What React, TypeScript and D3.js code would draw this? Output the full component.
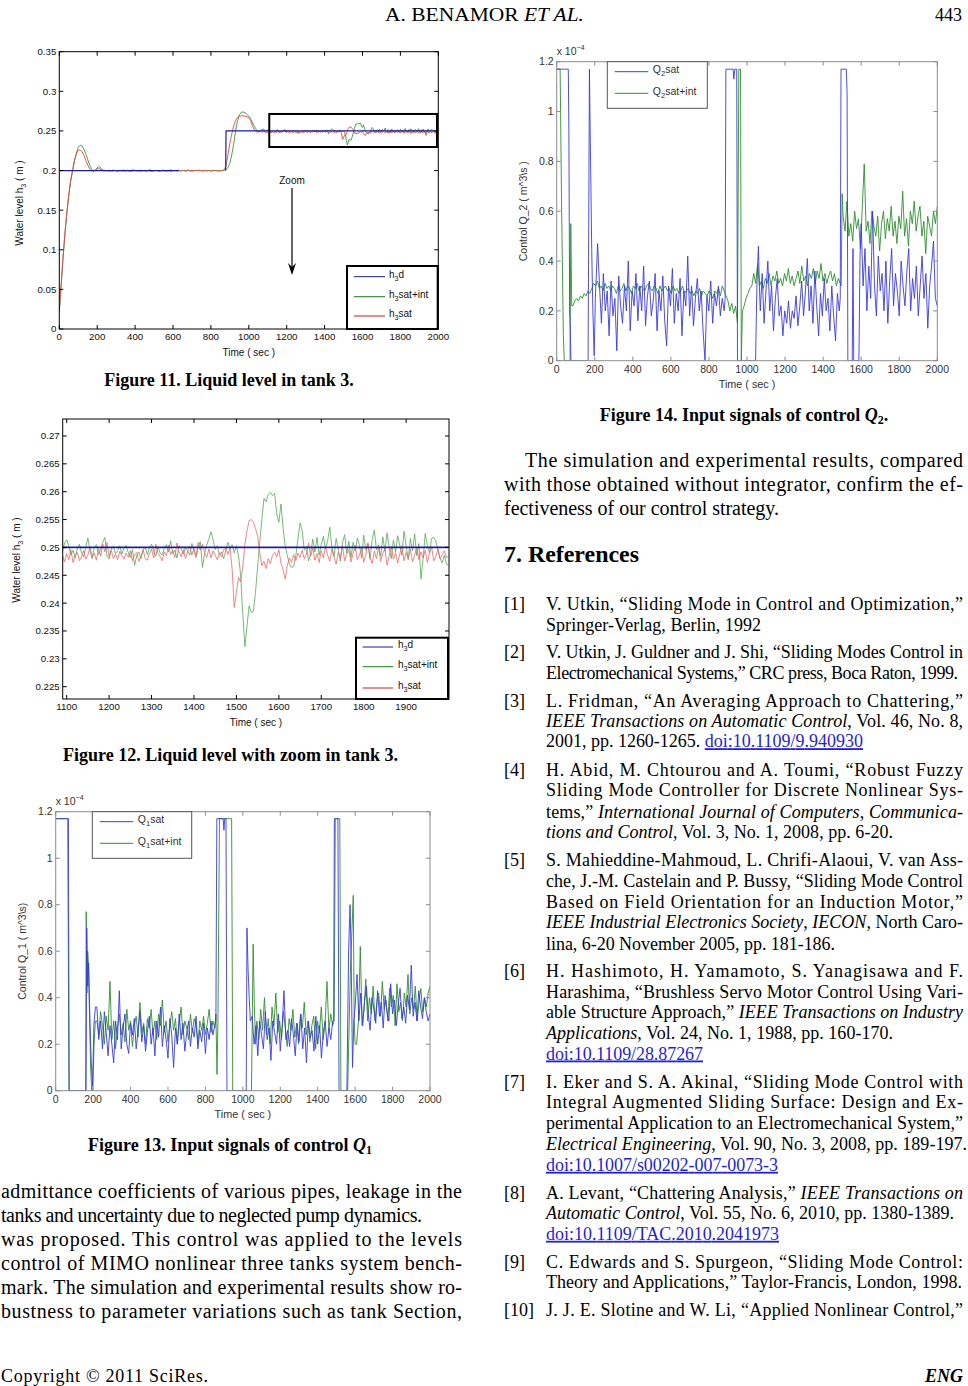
import React from 'react';
import * as d3 from 'd3';

type P = [number, number];
type Run = [number, number, number[]];

// ================= DATA =================
// Tick labels
const timeTicks = [0, 200, 400, 600, 800, 1000, 1200, 1400, 1600, 1800, 2000];
const zoomTimeTicks = [1100, 1200, 1300, 1400, 1500, 1600, 1700, 1800, 1900];
const levelTicks = [0, 0.05, 0.1, 0.15, 0.2, 0.25, 0.3, 0.35];
const zoomLevelTicks = [0.225, 0.23, 0.235, 0.24, 0.245, 0.25, 0.255, 0.26, 0.265, 0.27];
const flowTicks = [0, 0.2, 0.4, 0.6, 0.8, 1, 1.2];

// Figure 11 / 12 : water level h3, values in mm, time in s
const h3dLevel: P[] = [[0, 200], [630, 200], [630, NaN], [878, 200], [880, 250], [2000, 250]];
const h3Spans: P[] = [[0, 230], [240, 860], [870, 1080], [1090, 2000]];

const h3IntRise = [22, 55, 90, 120, 146, 168, 186, 199, 212, 222, 229, 232, 231, 227, 221, 214, 207, 202, 199.5, 200.5, 203.5, 205, 203, 200.5];
const h3IntFlat = [200.3, 199.6, 200.4, 199.5, 200.6, 199.8, 200.2, 199.4, 200.5, 199.9, 200.7, 199.6, 200.1, 199.3, 200.4, 200.8, 199.7, 200.2, 199.5, 200.6, 199.8, 200.3, 199.4, 200.5, 200.9, 199.6, 200.2, 199.7, 200.4, 199.5, 200.1, 200.6, 199.8, 199.4, 200.3, 200.7, 199.6, 200.2, 199.9, 200.5, 199.5, 200.1, 200.4, 199.7, 200.8, 199.6, 200.3, 199.5, 200.2, 199.9, 200.6, 199.4, 200.1, 200.5, 199.7, 200.3, 199.6, 200.4, 199.8, 200.2, 199.5, 200.3, 199.9];
const h3IntStep = [200.2, 201, 204, 209, 220, 233, 250, 262, 270, 273.5, 274, 273, 271, 268.5, 265, 260, 255.5, 251.5, 249.3, 250.5, 251.8, 252.2];
const h3IntZoom = [
  249.2, 250.8, 251.4, 250.2, 248.6, 249.5, 248.1, 249.8, 250.6, 249.0,
  248.3, 250.1, 251.7, 249.4, 248.0, 249.9, 250.5, 248.7, 249.6, 250.9,
  251.8, 248.4, 247.9, 249.7, 250.2, 248.9, 249.4, 250.3, 248.8, 249.9,
  250.4, 249.1, 248.2, 249.6, 246.8, 248.5, 249.2, 248.0, 249.5, 250.1,
  248.7, 249.9, 250.6, 249.3, 248.4, 250.2, 249.0, 248.6, 249.8, 250.5,
  249.2, 251.2, 248.9, 249.5, 248.1, 250.3, 249.7, 248.8, 250.0, 249.4,
  248.6, 250.7, 249.3, 248.2, 250.1, 251.0, 246.4, 248.9, 250.4, 251.5,
  252.8, 251.4, 249.6, 250.3, 248.7, 249.2, 248.0, 249.5, 250.9, 249.8,
  250.5, 249.0, 250.3, 248.5, 245.0, 238.0, 232.2, 236.0, 239.5, 238.3,
  238.5, 242.0, 246.5, 251.0, 255.0, 258.8, 258.2, 259.5, 259.9, 259.3,
  259.7, 256.0, 254.5, 257.8, 253.5, 250.3, 248.5, 247.0, 246.4, 246.6,
  248.5, 251.5, 254.4, 253.0, 249.5, 250.2, 247.6, 249.0, 251.5, 249.2,
  251.8, 248.6, 250.5, 252.0, 249.8, 251.2, 253.6, 250.1, 248.3, 251.6,
  249.7, 247.5, 250.8, 252.3, 249.0, 251.1, 248.2, 250.9, 249.4, 251.7,
  250.3, 248.1, 252.2, 249.5, 250.8, 247.9, 251.4, 253.1, 249.6, 250.5,
  248.4, 251.9, 249.3, 252.6, 250.0, 248.0, 251.3, 249.1, 252.1, 250.4,
  248.6, 252.9, 250.2, 247.8, 251.6, 249.4, 252.4, 248.5, 250.7, 244.3,
  248.0, 252.5, 250.3, 249.0, 251.6, 251.8, 251.2, 249.5, 248.0, 247.2,
  248.6, 247.0, 246.8];

const h3SatRise = [22, 56, 92, 122, 148, 170, 188, 201, 213, 221, 225.5, 226, 224, 219, 213, 207, 202, 199.5, 199.2, 200.5, 202, 202.5, 201, 199.8];
const h3SatFlat = [199.5, 200.2, 199.3, 199.9, 199.1, 200.4, 199.6, 199.0, 200.1, 199.4, 199.8, 199.2, 200.3, 199.5, 199.0, 199.9, 200.5, 199.3, 199.7, 199.1, 200.0, 199.6, 199.2, 200.2, 199.4, 198.9, 199.8, 200.3, 199.5, 199.0, 200.1, 199.7, 199.3, 200.4, 199.6, 199.1, 199.9, 200.2, 199.4, 199.8, 199.0, 200.3, 199.5, 199.2, 200.0, 199.6, 199.1, 199.9, 200.4, 199.3, 199.7, 200.1, 199.2, 199.8, 199.5, 200.2, 199.0, 199.6, 200.3, 199.4, 199.9, 199.2, 200.0];
const h3SatStep = [201, 206, 220, 234, 246, 256, 263, 267, 268.5, 269, 269, 268.5, 268, 266.5, 263, 256, 251, 249, 248.5, 249.3, 248.7, 249.2];
const h3SatZoom = [
  248.6, 247.4, 248.9, 247.8, 249.6, 247.3, 248.5, 249.1, 247.6, 248.3,
  249.4, 247.9, 248.6, 250.1, 248.2, 249.0, 247.7, 249.8, 248.4, 250.6,
  249.2, 250.9, 248.3, 249.5, 248.0, 248.8, 247.8, 249.3, 248.5, 247.9,
  249.0, 248.2, 249.4, 247.6, 248.7, 249.1, 247.5, 248.3, 249.6, 248.0,
  247.7, 248.9, 249.7, 248.1, 250.6, 249.0, 248.4, 247.6, 249.2, 248.5,
  250.4, 248.7, 249.5, 248.2, 250.8, 249.1, 248.3, 249.6, 248.0, 249.3,
  250.2, 248.6, 249.8, 248.4, 250.9, 249.5, 250.6, 249.0, 248.2, 249.7,
  248.1, 249.4, 248.6, 247.8, 249.0, 248.3, 249.6, 249.9, 248.7, 250.0,
  246.0, 239.2, 242.0, 244.6, 243.8, 246.5, 250.5, 253.0, 254.8, 255.0,
  254.5, 253.4, 252.0, 249.0, 246.7, 247.5, 246.2, 248.0, 247.1, 248.6,
  249.1, 248.3, 249.6, 247.2, 246.0, 244.3, 246.8, 248.1, 247.3, 248.7,
  247.6, 249.0, 248.2, 249.5, 247.9, 248.8, 250.8, 248.4, 249.9, 247.7,
  248.9, 247.3, 249.4, 248.1, 250.2, 248.6, 247.5, 249.7, 248.3, 247.0,
  249.1, 248.0, 250.3, 247.6, 248.8, 249.6, 247.4, 248.9, 250.4, 247.8,
  248.6, 249.9, 247.3, 248.7, 250.6, 248.2, 247.1, 249.4, 248.0, 250.1,
  247.5, 248.9, 249.8, 246.8, 248.4, 250.2, 247.9, 249.0, 247.2, 248.8,
  250.3, 247.6, 249.1, 248.0, 249.7, 247.4, 248.6, 250.0, 247.8, 249.2,
  248.1, 249.5, 247.3, 248.9, 250.1, 247.6, 248.4, 249.8, 247.9, 248.7,
  249.4, 248.1, 248.5];

// Figure 13 : control Q1 (x 1e-4 m^3/s)
const q1SatPts: P[] = [[0, 1.17], [68, 1.17], [72, 0], [162, 0], [166, 0.7], [171, 0.45], [176, 0.55], [183, 0.3], [190, 0.12], [197, 0.02], [204, 0.28], [212, 0.36],
  [856, 0.3], [861, 1.17], [895, 1.17], [899, 1.12], [903, 1.17], [910, 1.17], [915, 0], [1018, 0], [1022, 0.7], [1028, 0.52], [1034, 0.4], [1040, 0.3],
  [1485, 0.3], [1489, 1.17], [1508, 1.17], [1514, 0], [1556, 0], [1565, 0.6], [1573, 0.8], [1579, 0.55], [1586, 0.1], [1593, 0.3]];
const q1SatNoiseA = [0.36, 0.22, 0.3, 0.18, 0.34, 0.25, 0.15, 0.28, 0.2, 0.12, 0.3, 0.22, 0.43, 0.18, 0.27, 0.33, 0.2, 0.16, 0.29, 0.24, 0.31, 0.18, 0.26, 0.34, 0.21, 0.28, 0.17, 0.25, 0.32, 0.2, 0.27, 0.15, 0.3, 0.23, 0.36, 0.19, 0.28, 0.22, 0.14, 0.31, 0.24, 0.1, 0.27, 0.2, 0.33, 0.22, 0.29, 0.17, 0.25, 0.3, 0.19, 0.27, 0.23, 0.32, 0.18, 0.26, 0.21, 0.29, 0.16, 0.27, 0.22, 0.3, 0.24, 0.28];
const q1SatNoiseB = [0.32, 0.2, 0.28, 0.15, 0.3, 0.24, 0.18, 0.34, 0.22, 0.27, 0.13, 0.3, 0.25, 0.2, 0.33, 0.17, 0.28, 0.43, 0.22, 0.26, 0.19, 0.31, 0.24, 0.15, 0.29, 0.21, 0.33, 0.18, 0.27, 0.12, 0.3, 0.23, 0.26, 0.17, 0.32, 0.2, 0.28, 0.14, 0.25, 0.3, 0.19, 0.27, 0.22, 0.3];
const q1SatNoiseC = [0.36, 0.5, 0.3, 0.42, 0.28, 0.38, 0.45, 0.33, 0.26, 0.4, 0.35, 0.29, 0.43, 0.32, 0.38, 0.27, 0.41, 0.34, 0.3, 0.46, 0.33, 0.39, 0.28, 0.37, 0.44, 0.31, 0.36, 0.29, 0.41, 0.35, 0.54, 0.32, 0.38, 0.3, 0.43, 0.36, 0.31, 0.4, 0.34, 0.3, 0.33];
const q1SatRuns: Run[] = [[220, 850, q1SatNoiseA], [1050, 1480, q1SatNoiseB], [1600, 2000, q1SatNoiseC]];

const q1IntPts: P[] = [[0, 1.17], [64, 1.17], [71, 0], [160, 0], [163, 0.77], [167, 0.42], [171, 0.6], [175, 0.55], [180, 0.35], [186, 0.12], [192, 0], [198, 0], [205, 0.2], [212, 0.3],
  [856, 0.33], [862, 0.07], [867, 0.3], [875, 1.17], [940, 1.17], [946, 0], [1046, 0], [1055, 0.63], [1061, 0.38], [1068, 0.2],
  [1488, 0.3], [1494, 1.17], [1518, 1.17], [1524, 0], [1560, 0], [1574, 0.5], [1590, 0.84], [1595, 0.3], [1600, 0.2]];
const q1IntNoiseA = [0.3, 0.24, 0.34, 0.28, 0.2, 0.32, 0.26, 0.47, 0.22, 0.3, 0.18, 0.27, 0.33, 0.24, 0.29, 0.21, 0.35, 0.26, 0.3, 0.19, 0.28, 0.32, 0.23, 0.38, 0.25, 0.29, 0.2, 0.31, 0.27, 0.35, 0.24, 0.3, 0.22, 0.33, 0.28, 0.39, 0.25, 0.3, 0.21, 0.28, 0.34, 0.26, 0.31, 0.2, 0.29, 0.36, 0.24, 0.3, 0.27, 0.22, 0.33, 0.25, 0.31, 0.28, 0.2, 0.3, 0.26, 0.32, 0.24, 0.29, 0.35, 0.25, 0.3, 0.27];
const q1IntNoiseB = [0.3, 0.22, 0.35, 0.26, 0.4, 0.24, 0.31, 0.2, 0.36, 0.28, 0.42, 0.25, 0.3, 0.22, 0.34, 0.27, 0.19, 0.31, 0.26, 0.35, 0.23, 0.29, 0.2, 0.33, 0.27, 0.38, 0.24, 0.3, 0.21, 0.28, 0.32, 0.18, 0.3, 0.25, 0.36, 0.22, 0.29, 0.47, 0.26, 0.33, 0.28];
const q1IntNoiseC = [0.2, 0.3, 0.62, 0.28, 0.35, 0.48, 0.3, 0.4, 0.33, 0.45, 0.3, 0.38, 0.42, 0.32, 0.47, 0.35, 0.39, 0.3, 0.44, 0.36, 0.41, 0.28, 0.46, 0.34, 0.38, 0.3, 0.42, 0.36, 0.5, 0.33, 0.4, 0.35, 0.45, 0.3, 0.38, 0.44, 0.34, 0.4, 0.36, 0.42, 0.45];
const q1IntRuns: Run[] = [[220, 850, q1IntNoiseA], [1075, 1480, q1IntNoiseB], [1608, 2000, q1IntNoiseC]];

// Figure 14 : control Q2 (x 1e-4 m^3/s)
const q2SatPts: P[] = [[0, 1.17], [61, 1.17], [64, 0.92], [68, 0.2], [72, 0.12], [75, 0], [165, 0], [172, 1.17], [178, 0.8], [184, 0.45], [190, 0.2], [197, 0.02], [203, 0.25], [208, 0.34],
  [885, 0.25], [889, 1.17], [927, 1.17], [931, 1.13], [936, 1.17], [946, 1.17], [950, 0], [1045, 0], [1052, 0.3], [1060, 0.46], [1065, 0.3],
  [1490, 0.25], [1494, 1.17], [1522, 1.17], [1526, 1.07], [1530, 0], [1553, 0], [1557, 0.45], [1561, 0], [1588, 0], [1594, 0.42]];
const q2SatNoiseA = [0.47, 0.3, 0.15, 0.35, 0.2, 0.28, 0.1, 0.32, 0.18, 0.25, 0.04, 0.34, 0.22, 0.15, 0.3, 0.2, 0.4, 0.12, 0.28, 0.22, 0.35, 0.16, 0.3, 0.2, 0.38, 0.14, 0.26, 0.32, 0.18, 0.24, 0.35, 0.12, 0.28, 0.2, 0.34, 0.16, 0.06, 0.3, 0.22, 0.37, 0.15, 0.27, 0.2, 0.33, 0.1, 0.28, 0.22, 0.42, 0.18, 0.3, 0.14, 0.25, 0.33, 0.2, 0.28, 0.12, 0.0, 0.26, 0.2, 0.32, 0.15, 0.27, 0.22, 0.3, 0.18, 0.25, 0.2];
const q2SatNoiseB = [0.2, 0.35, 0.15, 0.28, 0.4, 0.2, 0.3, 0.12, 0.25, 0.33, 0.18, 0.22, 0.1, 0.2, 0.15, 0.24, 0.13, 0.2, 0.17, 0.26, 0.14, 0.22, 0.32, 0.18, 0.28, 0.41, 0.2, 0.3, 0.15, 0.36, 0.22, 0.1, 0.27, 0.18, 0.33, 0.2, 0.25, 0.12, 0.3, 0.18, 0.08, 0.27, 0.2];
const q2SatNoiseC = [0.55, 0.3, 0.45, 0.2, 0.38, 0.25, 0.6, 0.3, 0.18, 0.42, 0.28, 0.35, 0.2, 0.4, 0.15, 0.32, 0.45, 0.22, 0.35, 0.28, 0.18, 0.4, 0.3, 0.22, 0.36, 0.45, 0.2, 0.33, 0.25, 0.38, 0.18, 0.3, 0.42, 0.25, 0.35, 0.13, 0.3, 0.38, 0.48, 0.25, 0.22];
const q2SatRuns: Run[] = [[215, 880, q2SatNoiseA], [1070, 1485, q2SatNoiseB], [1600, 2000, q2SatNoiseC]];

const q2IntPts: P[] = [[0, 1.17], [18, 1.17], [26, 0.6], [35, 0.1], [40, 0], [70, 0], [74, 0.55], [79, 0.22],
  [890, 0.26], [900, 0.24], [910, 0.2], [920, 0.23], [930, 0.19], [940, 0.22], [950, 0.15], [957, 1.17], [966, 1.17], [970, 0], [976, 0.2],
  [1495, 0.3], [1500, 0.67]];
const q2IntNoiseA = [0.22, 0.24, 0.25, 0.24, 0.26, 0.25, 0.27, 0.26, 0.28, 0.27, 0.29, 0.31, 0.3, 0.32, 0.29, 0.3, 0.28, 0.31, 0.29, 0.3, 0.28, 0.3, 0.29, 0.27, 0.3, 0.28, 0.29, 0.31, 0.28, 0.3, 0.29, 0.27, 0.3, 0.29, 0.31, 0.28, 0.3, 0.29, 0.28, 0.3, 0.31, 0.29, 0.28, 0.3, 0.29, 0.27, 0.3, 0.28, 0.29, 0.3, 0.28, 0.29, 0.27, 0.3, 0.28, 0.29, 0.27, 0.28, 0.3, 0.27, 0.28, 0.29, 0.27, 0.28, 0.26, 0.28, 0.27, 0.29, 0.26, 0.28, 0.27, 0.26, 0.28, 0.27, 0.25, 0.28, 0.27, 0.29, 0.26, 0.3, 0.28];
const q2IntNoiseB = [0.22, 0.25, 0.27, 0.29, 0.3, 0.35, 0.31, 0.39, 0.3, 0.32, 0.29, 0.33, 0.31, 0.35, 0.3, 0.34, 0.32, 0.36, 0.31, 0.33, 0.3, 0.35, 0.32, 0.37, 0.31, 0.34, 0.3, 0.33, 0.36, 0.31, 0.38, 0.32, 0.34, 0.3, 0.35, 0.33, 0.37, 0.31, 0.36, 0.33, 0.39, 0.32, 0.35, 0.31, 0.34, 0.36, 0.32, 0.35, 0.3, 0.33, 0.31];
const q2IntNoiseC = [0.58, 0.52, 0.64, 0.5, 0.55, 0.48, 0.6, 0.53, 0.57, 0.45, 0.62, 0.79, 0.52, 0.56, 0.47, 0.6, 0.54, 0.5, 0.58, 0.44, 0.55, 0.6, 0.49, 0.57, 0.52, 0.62, 0.5, 0.56, 0.47, 0.58, 0.53, 0.68, 0.5, 0.57, 0.46, 0.6, 0.55, 0.64, 0.52, 0.58, 0.62, 0.5, 0.56, 0.43, 0.58, 0.54, 0.5, 0.6, 0.55, 0.62];
const q2IntRuns: Run[] = [[85, 880, q2IntNoiseA], [985, 1490, q2IntNoiseB], [1505, 2000, q2IntNoiseC]];

// Fig 11 annotation (data coordinates)
const zoomBox = [1108, 1993, 0.2297, 0.2714];
const zoomArrow = [1228, 0.178, 0.068];

// ================= TEXT =================
type Part = string | { t: string; i?: boolean; link?: boolean; sub?: boolean };
const leftBody: Part[][] = [
  ['admittance coefficients of various pipes, leakage in the'],
  ['tanks and uncertainty due to neglected pump dynamics.'],
  ['was proposed. This control was applied to the levels'],
  ['control of MIMO nonlinear three tanks system bench-'],
  ['mark. The simulation and experimental results show ro-'],
  ['bustness to parameter variations such as tank Section,'],
];
const rightBody: Part[][] = [
  ['The simulation and experimental results, compared'],
  ['with those obtained without integrator, confirm the ef-'],
  ['fectiveness of our control strategy.'],
];
const refs: Part[][][] = [
  [['V. Utkin, “Sliding Mode in Control and Optimization,”'], ['Springer-Verlag, Berlin, 1992']],
  [['V. Utkin, J. Guldner and J. Shi, “Sliding Modes Control in'], ['Electromechanical Systems,” CRC press, Boca Raton, 1999.']],
  [['L. Fridman, “An Averaging Approach to Chattering,”'], [{ t: 'IEEE Transactions on Automatic Control', i: true }, ', Vol. 46, No. 8,'], ['2001, pp. 1260-1265. ', { t: 'doi:10.1109/9.940930', link: true }]],
  [['H. Abid, M. Chtourou and A. Toumi, “Robust Fuzzy'], ['Sliding Mode Controller for Discrete Nonlinear Sys-'], ['tems,” ', { t: 'International Journal of Computers', i: true }, ', ', { t: 'Communica-', i: true }], [{ t: 'tions and Control', i: true }, ', Vol. 3, No. 1, 2008, pp. 6-20.']],
  [['S. Mahieddine-Mahmoud, L. Chrifi-Alaoui, V. van Ass-'], ['che, J.-M. Castelain and P. Bussy, “Sliding Mode Control'], ['Based on Field Orientation for an Induction Motor,”'], [{ t: 'IEEE Industrial Electronics Society', i: true }, ', ', { t: 'IECON', i: true }, ', North Caro-'], ['lina, 6-20 November 2005, pp. 181-186.']],
  [['H. Hashimoto, H. Yamamoto, S. Yanagisawa and F.'], ['Harashima, “Brushless Servo Motor Control Using Vari-'], ['able Structure Approach,” ', { t: 'IEEE Transactions on Industry', i: true }], [{ t: 'Applications', i: true }, ', Vol. 24, No. 1, 1988, pp. 160-170.'], [{ t: 'doi:10.1109/28.87267', link: true }]],
  [['I. Eker and S. A. Akinal, “Sliding Mode Control with'], ['Integral Augmented Sliding Surface: Design and Ex-'], ['perimental Application to an Electromechanical System,”'], [{ t: 'Electrical Engineering', i: true }, ', Vol. 90, No. 3, 2008, pp. 189-197.'], [{ t: 'doi:10.1007/s00202-007-0073-3', link: true }]],
  [['A. Levant, “Chattering Analysis,” ', { t: 'IEEE Transactions on', i: true }], [{ t: 'Automatic Control', i: true }, ', Vol. 55, No. 6, 2010, pp. 1380-1389.'], [{ t: 'doi:10.1109/TAC.2010.2041973', link: true }]],
  [['C. Edwards and S. Spurgeon, “Sliding Mode Control:'], ['Theory and Applications,” Taylor-Francis, London, 1998.']],
  [['J. J. E. Slotine and W. Li, “Applied Nonlinear Control,”']],
];

// ================= HELPERS =================
const SANS = "'Liberation Sans', Arial, Helvetica, sans-serif";
const SERIF = "'Liberation Serif', 'Times New Roman', Times, serif";

function build(pts: P[], runs: Run[], k = 1): P[] {
  const out: P[] = pts.map((p) => [p[0], p[1] * k] as P);
  runs.forEach(([t0, t1, vals]) => {
    vals.forEach((v, i) => out.push([t0 + ((t1 - t0) * i) / (vals.length - 1), v * k]));
  });
  out.sort((a, b) => a[0] - b[0]);
  return out;
}

const fmt = (v: number) => String(+v.toFixed(4));

function Axes({ x, y, xt, yt, frame, ink, fs, tick = 4 }: any) {
  const [x0, x1] = x.range();
  const [yb, ytop] = y.range();
  return (
    <g fontFamily={SANS} fontSize={fs} fill={ink}>
      {xt.map((t: number) => (
        <g key={'x' + t}>
          <line x1={x(t)} x2={x(t)} y1={yb} y2={yb - tick} stroke={frame} />
          <line x1={x(t)} x2={x(t)} y1={ytop} y2={ytop + tick} stroke={frame} />
          <text x={x(t)} y={yb + fs + 1.6} textAnchor="middle">{fmt(t)}</text>
        </g>
      ))}
      {yt.map((v: number) => (
        <g key={'y' + v}>
          <line x1={x0} x2={x0 + tick} y1={y(v)} y2={y(v)} stroke={frame} />
          <line x1={x1} x2={x1 - tick} y1={y(v)} y2={y(v)} stroke={frame} />
          <text x={x0 - 3} y={y(v) + fs * 0.36} textAnchor="end">{fmt(v)}</text>
        </g>
      ))}
      <rect x={x0} y={ytop} width={x1 - x0} height={yb - ytop} fill="none" stroke={frame} strokeWidth={1} />
    </g>
  );
}

function Series({ x, y, data, color, w, clip }: any) {
  const line = d3.line<P>().defined((d) => !isNaN(d[1])).x((d) => x(d[0])).y((d) => y(d[1]));
  return <path d={line(data) || ''} fill="none" stroke={color} strokeWidth={w} clipPath={`url(#${clip})`} strokeLinejoin="round" />;
}

function Sub({ base, sub, rest, fs }: any) {
  return (
    <>
      {base}
      <tspan dy={fs * 0.3} fontSize={fs * 0.72}>{sub}</tspan>
      <tspan dy={-fs * 0.3}>{rest}</tspan>
    </>
  );
}

function ClipDef({ id, x, y }: any) {
  const [x0, x1] = x.range();
  const [yb, yt] = y.range();
  return (
    <clipPath id={id}>
      <rect x={x0} y={yt} width={x1 - x0} height={yb - yt} />
    </clipPath>
  );
}

const H3_BLUE = '#1e1e9e';
const H3_GREEN = '#3b963b';
const H3_RED = '#e04848';

function LevelLegend({ box, rows, lx, tx }: any) {
  const [x0, y0, x1, y1] = box;
  const items = [
    { c: '#1a1a9a', s: 'd' },
    { c: '#1a7a1a', s: 'sat+int' },
    { c: '#d01818', s: 'sat' },
  ];
  return (
    <g fontFamily={SANS} fontSize={10} fill="#111">
      <rect x={x0} y={y0} width={x1 - x0} height={y1 - y0} fill="#fff" stroke="#000" strokeWidth={2} />
      {items.map((it, i) => (
        <g key={i}>
          <line x1={lx[0]} x2={lx[1]} y1={rows[i]} y2={rows[i]} stroke={it.c} strokeWidth={1} />
          <text x={tx} y={rows[i] + 1}>
            <Sub base="h" sub="3" rest={it.s} fs={10} />
          </text>
        </g>
      ))}
    </g>
  );
}

function Fig11() {
  const x = d3.scaleLinear().domain([0, 2000]).range([59.3, 438.3]);
  const y = d3.scaleLinear().domain([0, 0.35]).range([329, 51.7]);
  const k = 0.001;
  const mk = (arrs: number[][]) => build([], arrs.map((v, i) => [h3Spans[i][0], h3Spans[i][1], v] as Run), k);
  const green = mk([h3IntRise, h3IntFlat, h3IntStep, h3IntZoom]);
  const red = mk([h3SatRise, h3SatFlat, h3SatStep, h3SatZoom]);
  const blue = h3dLevel.map((p) => [p[0], p[1] * k] as P);
  const [zt0, zt1, zv0, zv1] = zoomBox;
  const [at, av0, av1] = zoomArrow;
  const ax = x(at), ay0 = y(av0), ay1 = y(av1);
  return (
    <g>
      <ClipDef id="c11" x={x} y={y} />
      <Series x={x} y={y} data={green} color={H3_GREEN} w={0.9} clip="c11" />
      <Series x={x} y={y} data={red} color={H3_RED} w={0.9} clip="c11" />
      <Series x={x} y={y} data={blue} color={H3_BLUE} w={1.2} clip="c11" />
      <Axes x={x} y={y} xt={timeTicks} yt={levelTicks} frame="#000" ink="#111" fs={9.7} />
      <rect x={x(zt0)} y={y(zv1)} width={x(zt1) - x(zt0)} height={y(zv0) - y(zv1)} fill="none" stroke="#000" strokeWidth={2} />
      <text x={ax} y={ay0 - 4} fontFamily={SANS} fontSize={10} textAnchor="middle" fill="#111">Zoom</text>
      <line x1={ax} x2={ax} y1={ay0} y2={ay1 - 8} stroke="#000" strokeWidth={1.2} />
      <polygon points={`${ax},${ay1} ${ax - 4},${ay1 - 12} ${ax},${ay1 - 8} ${ax + 4},${ay1 - 12}`} fill="#000" />
      <LevelLegend box={[347, 266, 437.7, 329]} rows={[276.7, 296.7, 316]} lx={[354, 385]} tx={389} />
      <text x={248.8} y={355.5} fontFamily={SANS} fontSize={10} textAnchor="middle" fill="#111">Time ( sec )</text>
      <text transform="translate(23,203) rotate(-90)" fontFamily={SANS} fontSize={10} textAnchor="middle" fill="#111">
        <Sub base="Water level h" sub="3" rest=" ( m )" fs={10} />
      </text>
    </g>
  );
}

function Fig12() {
  const x = d3.scaleLinear().domain([1090.6, 2001]).range([62.7, 449]);
  const y = d3.scaleLinear().domain([0.22279, 0.27305]).range([699, 419]);
  const k = 0.001;
  const green = build([], [[h3Spans[3][0], h3Spans[3][1], h3IntZoom]], k);
  const red = build([], [[h3Spans[3][0], h3Spans[3][1], h3SatZoom]], k);
  const blue = h3dLevel.filter((p) => p[0] >= 880).map((p) => [p[0], p[1] * k] as P);
  return (
    <g>
      <ClipDef id="c12" x={x} y={y} />
      <Series x={x} y={y} data={green} color="#55a855" w={0.8} clip="c12" />
      <Series x={x} y={y} data={red} color="#ec6868" w={0.8} clip="c12" />
      <Series x={x} y={y} data={blue} color="#1c1ca0" w={1.6} clip="c12" />
      <Axes x={x} y={y} xt={zoomTimeTicks} yt={zoomLevelTicks} frame="#000" ink="#111" fs={9.7} />
      <LevelLegend box={[356, 637.7, 448, 699]} rows={[647, 666.7, 688]} lx={[362.7, 393]} tx={398} />
      <text x={255.9} y={725.5} fontFamily={SANS} fontSize={10} textAnchor="middle" fill="#111">Time ( sec )</text>
      <text transform="translate(20,560) rotate(-90)" fontFamily={SANS} fontSize={10} textAnchor="middle" fill="#111">
        <Sub base="Water level h" sub="3" rest=" ( m )" fs={10} />
      </text>
    </g>
  );
}

function FlowFig({ id, range, yr, satPts, satRuns, intPts, intRuns, qn, legend, ylab, ylx }: any) {
  const x = d3.scaleLinear().domain([0, 2000]).range(range);
  const y = d3.scaleLinear().domain([0, 1.2]).range(yr);
  const sat = build(satPts, satRuns);
  const int = build(intPts, intRuns);
  const [x0, x1] = range;
  const [yb, yt] = yr;
  const [lx0, ly0, lx1, ly1] = legend;
  const frame = '#8c8c8c';
  const ink = '#333';
  const r1 = ly0 + 10, r2 = ly0 + 31.6;
  const sx0 = lx0 + 7.5, sx1 = lx0 + 41, tx = lx0 + 45.5;
  return (
    <g>
      <ClipDef id={id} x={x} y={y} />
      <Series x={x} y={y} data={int} color="#2f8f2f" w={0.9} clip={id} />
      <Series x={x} y={y} data={sat} color="#3a3ae0" w={0.9} clip={id} />
      <Axes x={x} y={y} xt={timeTicks} yt={flowTicks} frame={frame} ink={ink} fs={10.5} />
      <text x={x0} y={yt - 7} fontFamily={SANS} fontSize={10.5} fill={ink}>
        x 10<tspan dy={-5} fontSize={7}>−4</tspan>
      </text>
      <g fontFamily={SANS} fontSize={10.5} fill={ink}>
        <rect x={lx0} y={ly0} width={lx1 - lx0} height={ly1 - ly0} fill="#fff" stroke="#555" strokeWidth={1} />
        <line x1={sx0} x2={sx1} y1={r1} y2={r1} stroke="#3a3ae0" />
        <line x1={sx0} x2={sx1} y1={r2} y2={r2} stroke="#2f8f2f" />
        <text x={tx} y={r1 + 1.5}><Sub base="Q" sub={qn} rest="sat" fs={10.5} /></text>
        <text x={tx} y={r2 + 1.5}><Sub base="Q" sub={qn} rest="sat+int" fs={10.5} /></text>
      </g>
      <text x={(x0 + x1) / 2} y={yb + 27} fontFamily={SANS} fontSize={10.8} textAnchor="middle" fill={ink}>Time ( sec )</text>
      <text transform={`translate(${ylx},${(yb + yt) / 2}) rotate(-90)`} fontFamily={SANS} fontSize={10.5} textAnchor="middle" fill={ink}>{ylab}</text>
    </g>
  );
}

function TLine({ x, y, w, fs, parts, weight, adjust }: any) {
  return (
    <text x={x} y={y} fontSize={fs} fontFamily={SERIF} fontWeight={weight} fill="#000"
      textLength={w} lengthAdjust={adjust || 'spacing'}>
      {parts.map((p: Part, i: number) =>
        typeof p === 'string' ? (
          <tspan key={i}>{p}</tspan>
        ) : (
          <tspan key={i} fontStyle={p.i ? 'italic' : undefined} fill={p.link ? '#1f1fd6' : undefined}
            style={p.link ? { textDecoration: 'underline' } : undefined}>{p.t}</tspan>
        )
      )}
    </text>
  );
}

export default function App() {
  const leftY = [1192, 1216, 1240, 1264, 1288, 1312];
  const leftW = [461, 421, 461, 461, 461, 461];
  const refY = [
    [604.3, 625], [652.3, 673.3], [701, 721.7, 741.7], [770, 790.7, 812, 832.7],
    [860.7, 881.3, 902.3, 922.7, 944], [971.7, 992.3, 1012.7, 1033.7, 1054],
    [1082.7, 1102.7, 1123.3, 1144.3, 1165.3], [1193.3, 1213.3, 1234.3], [1262.3, 1282.7], [1310],
  ];
  const refW = [
    [417, 215], [417, 412], [417, 417, 317], [417, 417, 417, 347], [417, 417, 417, 417, 289],
    [417, 417, 417, 347, 157], [417, 417, 417, 421, 232], [417, 408, 233], [417, 416], [417],
  ];
  return (
    <>
      <style>{'body{margin:0;background:#fff}'}</style>
      <svg width={968} height={1386} viewBox="0 0 968 1386" style={{ display: 'block', background: '#fff' }}>
        {/* header */}
        <text x={385} y={21} fontFamily={SERIF} fontSize={18} textLength={199} lengthAdjust="spacingAndGlyphs">
          A. BENAMOR  <tspan fontStyle="italic">ET  AL.</tspan>
        </text>
        <text x={962} y={21} fontFamily={SERIF} fontSize={18} textAnchor="end">443</text>

        <Fig11 />
        <text x={229} y={386} fontFamily={SERIF} fontSize={18} fontWeight="bold" textAnchor="middle">Figure 11. Liquid level in tank 3.</text>

        <Fig12 />
        <text x={63} y={761} fontFamily={SERIF} fontSize={18} fontWeight="bold" textLength={335} lengthAdjust="spacingAndGlyphs">Figure 12. Liquid level with zoom in tank 3.</text>

        <FlowFig id="c13" range={[55.7, 430]} yr={[1090.7, 811.7]} satPts={q1SatPts} satRuns={q1SatRuns}
          intPts={q1IntPts} intRuns={q1IntRuns} qn="1" legend={[92.3, 811.7, 191.7, 858.3]}
          ylab="Control Q_1 ( m^3\s)" ylx={26} />
        <text x={88} y={1151} fontFamily={SERIF} fontSize={18} fontWeight="bold" textLength={284} lengthAdjust="spacingAndGlyphs">
          Figure 13. Input signals of control <tspan fontStyle="italic">Q</tspan><tspan fontSize={12} dy={3}>1</tspan>
        </text>

        <FlowFig id="c14" range={[556.7, 937.3]} yr={[360.7, 61.7]} satPts={q2SatPts} satRuns={q2SatRuns}
          intPts={q2IntPts} intRuns={q2IntRuns} qn="2" legend={[607.3, 61.7, 707.3, 108.3]}
          ylab="Control Q_2 ( m^3\s )" ylx={527} />
        <text x={744} y={421} fontFamily={SERIF} fontSize={18} fontWeight="bold" textAnchor="middle">
          Figure 14. Input signals of control <tspan fontStyle="italic">Q</tspan><tspan fontSize={12} dy={3}>2</tspan><tspan dy={-3}>.</tspan>
        </text>

        {/* right column body */}
        <TLine x={525} y={466.5} w={438} fs={20} parts={rightBody[0]} />
        <TLine x={504} y={490.8} w={459} fs={20} parts={rightBody[1]} />
        <TLine x={504} y={514.8} w={275} fs={20} parts={rightBody[2]} />
        <TLine x={504} y={561.5} w={135} fs={23} weight="bold" parts={['7. References']} adjust="spacingAndGlyphs" />

        {refs.map((lines, ri) => (
          <g key={ri}>
            <text x={504} y={refY[ri][0] + 5.5} fontFamily={SERIF} fontSize={18}>[{ri + 1}]</text>
            {lines.map((ln, li) => (
              <TLine key={li} x={546} y={refY[ri][li] + 5.5} w={refW[ri][li]} fs={18} parts={ln} />
            ))}
          </g>
        ))}

        {/* left column body */}
        {leftBody.map((ln, i) => (
          <TLine key={i} x={1} y={leftY[i] + 6} w={leftW[i]} fs={20} parts={ln} />
        ))}

        {/* footer */}
        <text x={1} y={1382} fontFamily={SERIF} fontSize={18} textLength={207} lengthAdjust="spacing">Copyright © 2011 SciRes.</text>
        <text x={963} y={1382} fontFamily={SERIF} fontSize={18} fontWeight="bold" fontStyle="italic" textAnchor="end">ENG</text>
      </svg>
    </>
  );
}
